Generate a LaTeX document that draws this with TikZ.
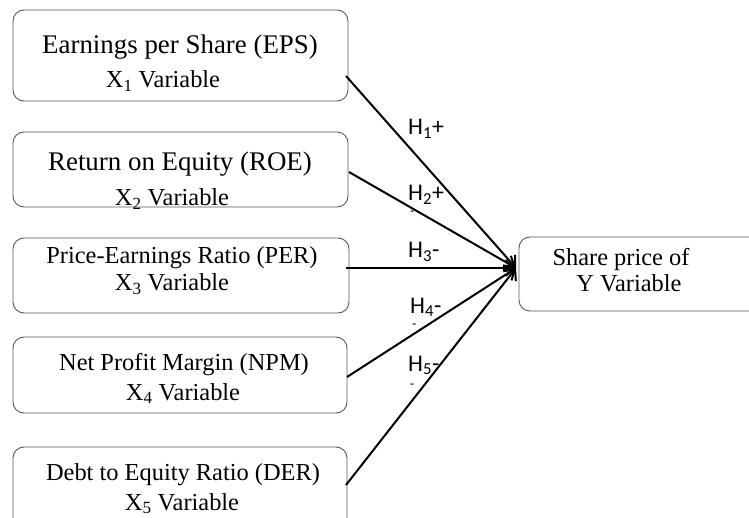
\documentclass[tikz,border=0pt]{standalone}
\usepackage{fontspec}
\setmainfont{Liberation Serif}
\newfontfamily\labfont{Carlito}
\usetikzlibrary{arrows.meta}
\begin{document}
\begin{tikzpicture}[x=1bp,y=-1bp,
  vbox/.style={draw=black!65, line width=0.9bp, rounded corners=11bp},
  big/.style={font=\fontsize{27}{32}\selectfont, anchor=base, inner sep=0},
  mid/.style={font=\fontsize{24.5}{29}\selectfont, anchor=base, inner sep=0},
  hlab/.style={font=\labfont\fontsize{24}{28}\selectfont, anchor=base west, inner sep=0},
  dlab/.style={font=\labfont\fontsize{14}{16}\selectfont, anchor=base west, inner sep=0},
  link/.style={line width=2bp, -{Straight Barb[length=9bp,width=16bp,line width=2bp]}}]
\useasboundingbox (0,0) rectangle (749,518);
\clip (0,0) rectangle (749,518);
\fill[white] (0,0) rectangle (749,518);
% boxes
\draw[vbox] (13,10) rectangle (348,101);
\draw[vbox] (13,132) rectangle (348,207);
\draw[vbox] (13,238) rectangle (349,313);
\draw[vbox] (13,337) rectangle (347,413);
\draw[vbox] (13,447) rectangle (347,532);
\draw[vbox] (519,237) rectangle (770,311);
% texts
\node[big] (t1a) at (180,54) {Earnings per Share (EPS)};
\node[mid] (t1b) at (163,88) {X\textsubscript{1} Variable};
\node[big] (t2a) at (180,171) {Return on Equity (ROE)};
\node[mid] (t2b) at (172,206) {X\textsubscript{2} Variable};
\node[mid] (t3a) at (182,264) {Price-Earnings Ratio (PER)};
\node[mid] (t3b) at (172,291) {X\textsubscript{3} Variable};
\node[mid] (t4a) at (184,370) {Net Profit Margin (NPM)};
\node[mid] (t4b) at (183,400) {X\textsubscript{4} Variable};
\node[mid] (t5a) at (183,480) {Debt to Equity Ratio (DER)};
\node[mid] (t5b) at (182,510) {X\textsubscript{5} Variable};
\node[mid] (ya) at (621,266) {Share price of};
\node[mid] (yb) at (629,292) {Y Variable};
% connector ends
\coordinate (s1) at (346,76);
\coordinate (s2) at (349,172);
\coordinate (s3) at (346,268);
\coordinate (s4) at (347,377);
\coordinate (s5) at (346,485);
\coordinate (tip) at (516,268);
\draw[link] (s1) -- (tip);
\draw[link] (s2) -- (tip);
\draw[link] (s3) -- (tip);
\draw[link] (s4) -- (tip);
\draw[link] (s5) -- (tip);
% labels
\node[hlab] (h1) at (408,135) {H\textsubscript{1}+};
\node[hlab] (h2) at (408,201) {H\textsubscript{2}+};
\node[dlab] (d2) at (410,216) {-};
\node[hlab] (h3) at (408,258) {H\textsubscript{3}-};
\node[dlab] (d3) at (410,273) {-};
\node[hlab] (h4) at (410,313) {H\textsubscript{4}-};
\node[dlab] (d4) at (412,328) {-};
\node[hlab] (h5) at (408,371) {H\textsubscript{5}-};
\node[dlab] (d5) at (410,388) {-};
\end{tikzpicture}
\end{document}
